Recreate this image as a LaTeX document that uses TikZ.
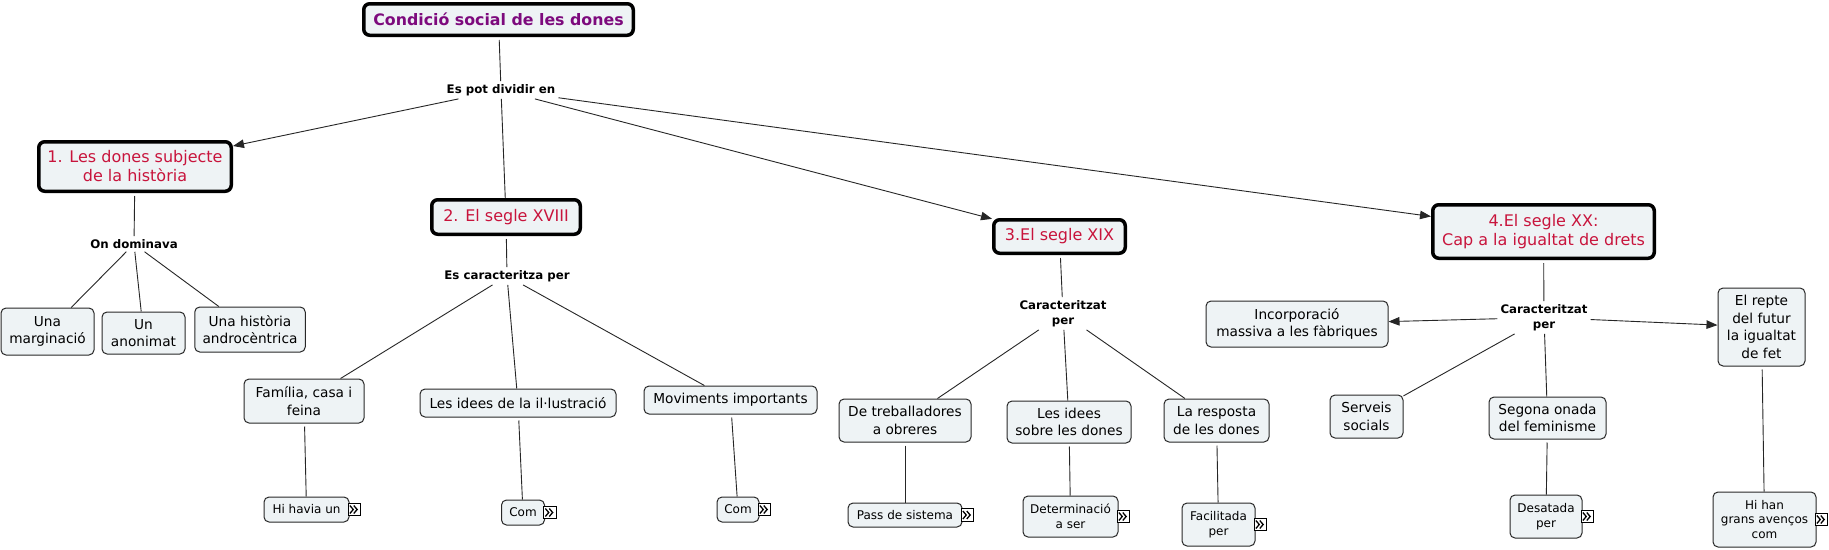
\documentclass[tikz,border=0pt]{standalone}
\usepackage{fontspec}
\setmainfont{DejaVu Sans}
\usetikzlibrary{arrows.meta}
\definecolor{cfill}{RGB}{238,243,245}
\definecolor{cborder}{RGB}{40,40,40}
\definecolor{ttitle}{RGB}{125,10,125}
\definecolor{tsect}{RGB}{200,20,60}
\tikzset{
  mtitle/.style={draw=black, line width=3.5pt, rounded corners=6pt, fill=cfill, text=ttitle,
    font=\fontsize{15.8}{19}\selectfont\bfseries, inner sep=0pt, align=center},
  msect/.style={draw=black, line width=3.5pt, rounded corners=6pt, fill=cfill, text=tsect,
    font=\fontsize{16}{19}\selectfont, inner sep=0pt, align=center},
  mconcept/.style={draw=cborder, line width=1pt, rounded corners=5pt, fill=cfill,
    font=\fontsize{13.7}{17.5}\selectfont, inner sep=0pt, align=center},
  msmall/.style={mconcept, font=\fontsize{12}{14.5}\selectfont},
  mlabel/.style={font=\fontsize{11.8}{15}\selectfont\bfseries, inner sep=3pt, align=center},
  mconn/.style={draw=black!85, line width=0.9pt},
  mfrom/.style={mconn, shorten <=3pt},
  marr/.style={mconn, -{Triangle[length=11pt,width=8.5pt]}},
  micon/.style={draw=black, line width=0.8pt, fill=white, minimum width=12.5pt, minimum height=12.5pt,
    inner sep=0pt, anchor=west,
    path picture={
      \draw[line width=1.3pt] ([shift={(-4.3pt,4pt)}]path picture bounding box.center) --
        ([shift={(-0.9pt,0pt)}]path picture bounding box.center) --
        ([shift={(-4.3pt,-4pt)}]path picture bounding box.center);
      \draw[line width=1.3pt] ([shift={(-0.4pt,4pt)}]path picture bounding box.center) --
        ([shift={(3pt,0pt)}]path picture bounding box.center) --
        ([shift={(-0.4pt,-4pt)}]path picture bounding box.center);
    }},
}
\begin{document}
\begin{tikzpicture}[x=1pt, y=-1pt]
\fill[white] (0,0) rectangle (1829,549);
\useasboundingbox (0,0) rectangle (1829,549);

% main
\node[mtitle, minimum width=269.5pt, minimum height=31.5pt] (title) at (498.5,19.5) {Condició social de les dones};
\node[mlabel] (l0) at (501,90) {Es pot dividir en};

% sections
\node[msect, minimum width=192.5pt, minimum height=49.5pt] (s1) at (135,166.5) {1. Les dones subjecte\\de la història};
\node[msect, minimum width=148.5pt, minimum height=34.5pt] (s2) at (506,217) {2. El segle XVIII};
\node[msect, minimum width=131.5pt, minimum height=33.5pt] (s3) at (1059.5,236.5) {3.El segle XIX};
\node[msect, minimum width=221.5pt, minimum height=53.5pt] (s4) at (1543.5,231.5) {4.El segle XX:\\Cap a la igualtat de drets};

% section 1
\node[mlabel] (l1) at (134,244) {On dominava};
\node[mconcept, minimum width=93pt, minimum height=47pt] (cmarg) at (47.5,331.5) {Una\\marginació};
\node[mconcept, minimum width=83pt, minimum height=42pt] (canon) at (143.5,333) {Un\\anonimat};
\node[mconcept, minimum width=110.5pt, minimum height=45pt] (candro) at (250,329.5) {Una història\\androcèntrica};

% section 2
\node[mlabel] (l2) at (507,276) {Es caracteritza per};
\node[mconcept, minimum width=120pt, minimum height=44pt] (cfam) at (304,401) {Família, casa i\\feina};
\node[mconcept, minimum width=196pt, minimum height=28pt] (cilu) at (518,403) {Les idees de la il·lustració};
\node[mconcept, minimum width=173pt, minimum height=28pt] (cmov) at (730.5,400) {Moviments importants};
\node[msmall, minimum width=85pt, minimum height=25pt] (phav) at (306.5,509.5) {Hi havia un};
\node[msmall, minimum width=43pt, minimum height=25pt] (pcom1) at (523,512.5) {Com};
\node[msmall, minimum width=42pt, minimum height=25pt] (pcom2) at (738,509.5) {Com};

% section 3
\node[mlabel] (l3) at (1063,313.5) {Caracteritzat\\per};
\node[mconcept, minimum width=132pt, minimum height=43pt] (ctreb) at (905,420.5) {De treballadores\\a obreres};
\node[mconcept, minimum width=124pt, minimum height=42pt] (cidees) at (1069,422) {Les idees\\sobre les dones};
\node[mconcept, minimum width=105pt, minimum height=43pt] (cresp) at (1216.5,420.5) {La resposta\\de les dones};
\node[msmall, minimum width=114pt, minimum height=24pt] (ppass) at (905,515) {Pass de sistema};
\node[msmall, minimum width=95pt, minimum height=41pt] (pdet) at (1070.5,516.5) {Determinació\\a ser};
\node[msmall, minimum width=73pt, minimum height=43pt] (pfac) at (1218.5,524.5) {Facilitada\\per};

% section 4
\node[mlabel] (l4) at (1544,317.5) {Caracteritzat\\per};
\node[mconcept, minimum width=182pt, minimum height=46pt] (cinc) at (1297,324) {Incorporació\\massiva a les fàbriques};
\node[mconcept, minimum width=87pt, minimum height=78pt] (crep) at (1761.5,327) {El repte\\del futur\\la igualtat\\de fet};
\node[mconcept, minimum width=73pt, minimum height=43pt] (cserv) at (1366.5,416.5) {Serveis\\socials};
\node[mconcept, minimum width=117pt, minimum height=42pt] (cseg) at (1547.5,418) {Segona onada\\del feminisme};
\node[msmall, minimum width=72pt, minimum height=43pt] (pdes) at (1546,516.5) {Desatada\\per};
\node[msmall, minimum width=103pt, minimum height=55pt] (phan) at (1764.5,519.5) {Hi han\\grans avenços\\com};

% icons
\node[micon] (i1) at ([xshift=-2pt]phav.east) {};
\node[micon] (i2) at ([xshift=-2pt]pcom1.east) {};
\node[micon] (i3) at ([xshift=-2pt]pcom2.east) {};
\node[micon] (i4) at ([xshift=-2pt]ppass.east) {};
\node[micon] (i5) at ([xshift=-2pt]pdet.east) {};
\node[micon] (i6) at ([xshift=-2pt]pfac.east) {};
\node[micon] (i7) at ([xshift=-2pt]pdes.east) {};
\node[micon] (i8) at ([xshift=-2pt]phan.east) {};

% connectors
\draw[mfrom] (title) -- (l0);
\draw[marr] (l0) -- (s1);
\draw[mconn] (l0) -- (s2);
\draw[marr] (l0) -- (s3);
\draw[marr] (l0) -- (s4);

\draw[mfrom] (s1) -- (l1);
\draw[mconn] (l1) -- (cmarg);
\draw[mconn] (l1) -- (canon);
\draw[mconn] (l1) -- (candro);

\draw[mfrom] (s2) -- (l2);
\draw[mconn] (l2) -- (cfam);
\draw[mconn] (l2) -- (cilu);
\draw[mconn] (l2) -- (cmov);
\draw[mfrom] (cfam) -- (phav);
\draw[mfrom] (cilu) -- (pcom1);
\draw[mfrom] (cmov) -- (pcom2);

\draw[mfrom] (s3) -- (l3);
\draw[mconn] (l3) -- (ctreb);
\draw[mconn] (l3) -- (cidees);
\draw[mconn] (l3) -- (cresp);
\draw[mfrom] (ctreb) -- (ppass);
\draw[mfrom] (cidees) -- (pdet);
\draw[mfrom] (cresp) -- (pfac);

\draw[mfrom] (s4) -- (l4);
\draw[marr] (l4) -- (cinc);
\draw[marr] (l4) -- (crep);
\draw[mconn] (l4) -- (cserv);
\draw[mconn] (l4) -- (cseg);
\draw[mfrom] (cseg) -- (pdes);
\draw[mfrom] (crep) -- (phan);
\end{tikzpicture}
\end{document}
